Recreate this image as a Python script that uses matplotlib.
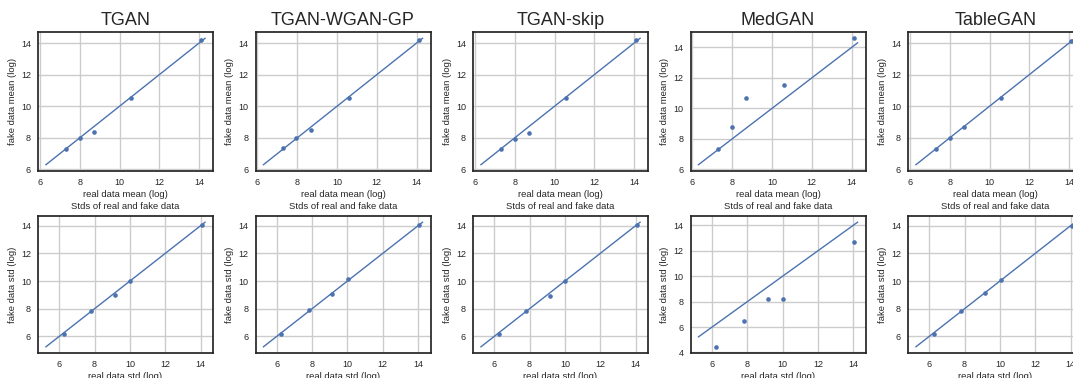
import numpy as np
import matplotlib
matplotlib.use("Agg")
import matplotlib.pyplot as plt
from matplotlib.ticker import MultipleLocator

# Nombres de los modelos (columnas)
modelos = ["TGAN", "TGAN-WGAN-GP", "TGAN-skip", "MedGAN", "TableGAN"]

# Medias (log) de los datos reales y sinteticos
media_real = [
    [7.3, 8.0, 8.7, 10.6, 14.1],
    [7.3, 7.95, 8.7, 10.6, 14.1],
    [7.3, 8.0, 8.7, 10.6, 14.1],
    [7.3, 8.0, 8.7, 10.6, 14.1],
    [7.3, 8.0, 8.7, 10.6, 14.1],
]
media_falsa = [
    [7.3, 8.0, 8.4, 10.55, 14.2],
    [7.35, 8.0, 8.5, 10.5, 14.2],
    [7.3, 7.9, 8.3, 10.5, 14.2],
    [7.3, 8.8, 10.7, 11.55, 14.6],
    [7.3, 8.0, 8.7, 10.55, 14.15],
]

# Desviaciones estandar (log)
std_real = [
    [6.25, 7.8, 9.15, 10.0, 14.05],
    [6.25, 7.85, 9.15, 10.05, 14.05],
    [6.25, 7.8, 9.15, 10.0, 14.05],
    [6.23, 7.83, 9.15, 10.04, 14.05],
    [6.25, 7.8, 9.15, 10.05, 14.05],
]
std_falsa = [
    [6.2, 7.8, 9.0, 10.0, 14.05],
    [6.2, 7.9, 9.05, 10.15, 14.05],
    [6.2, 7.8, 8.95, 10.0, 14.05],
    [4.45, 6.45, 8.24, 8.18, 12.66],
    [6.2, 7.85, 9.15, 10.05, 14.0],
]

azul = "#4C72B0"
plt.rcParams["font.family"] = ["Liberation Sans", "DejaVu Sans"]
plt.rcParams["axes.edgecolor"] = ".15"
plt.rcParams["axes.linewidth"] = 1.25
plt.rcParams["text.color"] = ".15"
plt.rcParams["axes.labelcolor"] = ".15"
plt.rcParams["xtick.color"] = ".15"
plt.rcParams["ytick.color"] = ".15"

fig = plt.figure(figsize=(10.73, 3.78), dpi=100)
W, H = 1073.0, 378.0


def dibujar(ax, real, falsa, etiqueta, titulo, tam_titulo):
    lo = min(real) - 1
    hi = max(real) + 0.2
    ax.plot([lo, hi], [lo, hi], color=azul, linewidth=1.0)
    ax.scatter(real, falsa, s=11, color=azul, zorder=3, linewidths=0)
    ax.xaxis.set_major_locator(MultipleLocator(2))
    ax.yaxis.set_major_locator(MultipleLocator(2))
    ax.grid(True, color=".8", linewidth=1.0)
    ax.set_axisbelow(True)
    ax.tick_params(length=0, pad=5, labelsize=6.5)
    ax.set_xlabel("real data %s (log)" % etiqueta, fontsize=6.8, labelpad=2.5)
    ax.set_ylabel("fake data %s (log)" % etiqueta, fontsize=6.8, labelpad=3)
    ax.set_title(titulo, fontsize=tam_titulo, pad=5)


for i, nombre in enumerate(modelos):
    izq = (38 + i * 217.5) / W
    ax1 = fig.add_axes([izq, (H - 171) / H, 175 / W, 139 / H])
    dibujar(ax1, media_real[i], media_falsa[i], "mean", nombre, 13)
    ax2 = fig.add_axes([izq, (H - 353) / H, 175 / W, 137 / H])
    dibujar(ax2, std_real[i], std_falsa[i], "std", "Stds of real and fake data", 6.8)

fig.savefig("out.png", dpi=100)
